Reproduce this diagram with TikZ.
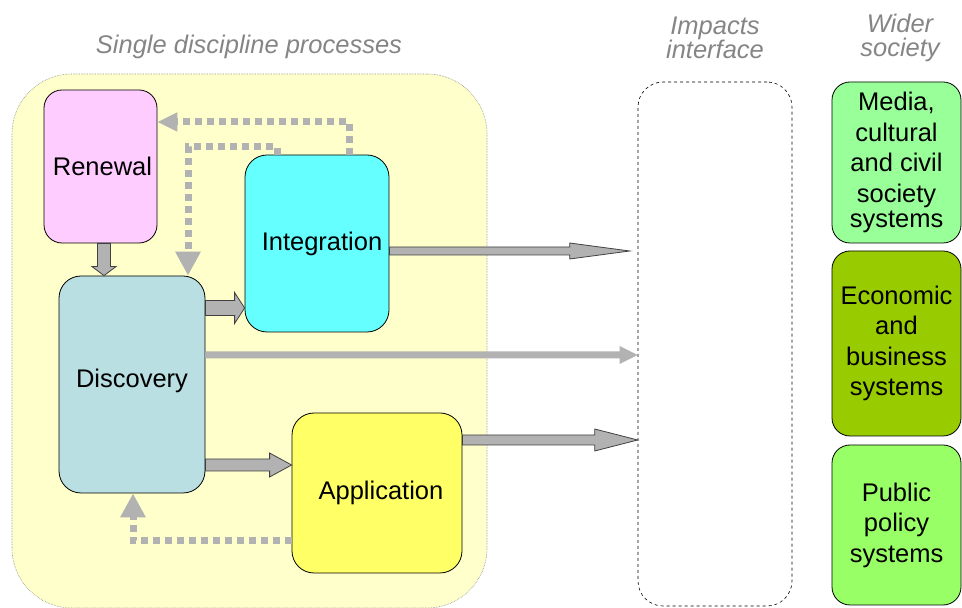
\documentclass[tikz,border=0pt]{standalone}
\usepackage{fontspec}
\setmainfont{Liberation Sans}
\usetikzlibrary{arrows.meta,calc}
\definecolor{regionfill}{HTML}{FFFFCC}
\definecolor{renfill}{HTML}{FFCCFF}
\definecolor{intfill}{HTML}{66FFFF}
\definecolor{discfill}{HTML}{B9DFE2}
\definecolor{appfill}{HTML}{FFFF66}
\definecolor{mediafill}{HTML}{99FF99}
\definecolor{econfill}{HTML}{99CC00}
\definecolor{pubfill}{HTML}{99FF66}
\definecolor{arrowgray}{HTML}{B2B2B2}
\definecolor{edgedark}{HTML}{404040}
\definecolor{titlegray}{HTML}{858585}
\tikzset{
  proc/.style={draw=black, line width=0.8pt, rounded corners=20pt, inner sep=0pt, align=center,
    font=\fontsize{25.5}{30.5}\selectfont},
  society/.style={proc, rounded corners=18pt},
  blk/.style={draw=edgedark, fill=arrowgray, line width=0.8pt, line join=miter},
  lightblk/.style={fill=arrowgray, draw=none},
  dotarrow/.style={draw=arrowgray, line width=7pt, dash pattern=on 7pt off 5pt,
    -{Triangle[length=24pt,width=24pt,fill=arrowgray]}},
  dotarrowsmall/.style={draw=arrowgray, line width=7pt, dash pattern=on 7pt off 5pt,
    -{Triangle[length=20pt,width=18pt,fill=arrowgray]}},
  heading/.style={text=titlegray, font=\fontsize{25.5}{24}\selectfont\itshape, align=center, inner sep=0pt}
}
\begin{document}
\begin{tikzpicture}[x=1pt,y=1pt]
\useasboundingbox (0,0) rectangle (962,608);
% region
\node[draw=titlegray, densely dotted, line width=0.6pt, fill=regionfill, rounded corners=60pt,
  minimum width=475pt, minimum height=534pt, inner sep=0pt] (region) at (249.5,267) {};
% headings
\node[heading] (h1) at (249,561) {Single discipline processes};
\node[heading] (h2) at (715,570) {Impacts\\interface};
\node[heading] (h3) at (900,570) {Wider\\society};
% process boxes
\node[proc, fill=renfill, minimum width=113pt, minimum height=153pt, rounded corners=18pt] (ren) at (100.5,441.5) {\hspace*{4pt}Renewal};
\node[proc, fill=intfill, minimum width=144pt, minimum height=177pt, rounded corners=22pt] (integ) at (317,364.5) {\hspace*{10pt}Integration};
\node[proc, fill=discfill, minimum width=146pt, minimum height=217pt, rounded corners=22pt] (disc) at (132,223.5) {\raisebox{12pt}{Discovery}};
\node[proc, fill=appfill, minimum width=170pt, minimum height=160pt, rounded corners=22pt] (app) at (377,115) {\hspace*{8pt}Application};
% impacts interface
\node[draw=black, dashed, line width=0.6pt, rounded corners=25pt, minimum width=154pt, minimum height=524pt, inner sep=0pt] (imp) at (715,264) {};
% society boxes
\node[society, fill=mediafill, minimum width=129pt, minimum height=161pt] (media) at (896.5,445.5) {Media,\\cultural\\and civil\\society\\[-5pt]systems};
\node[society, fill=econfill, minimum width=129pt, minimum height=185pt] (econ) at (896.5,264.5) {Economic\\and\\business\\systems};
\node[society, fill=pubfill, minimum width=129pt, minimum height=160pt] (pub) at (896.5,83) {Public\\policy\\systems};
% block arrows
\draw[blk] let \p1=(ren.south), \p2=(disc.north) in
  (97.5,\y1) -- (110.5,\y1) -- (110.5,\y2+9pt) -- (116,\y2+9pt) -- (104,\y2) -- (92,\y2+9pt) -- (97.5,\y2+9pt) -- cycle;
\draw[blk] let \p1=(disc.east), \p2=(integ.west) in
  (\x1,292.5pt) -- (\x2-10pt,292.5pt) -- (\x2-10pt,284.5pt) -- (\x2,300pt) -- (\x2-10pt,315.5pt) -- (\x2-10pt,307.5pt) -- (\x1,307.5pt) -- cycle;
\draw[blk] let \p1=(disc.east), \p2=(app.west) in
  (\x1,137pt) -- (\x2-22pt,137pt) -- (\x2-22pt,131pt) -- (\x2,143pt) -- (\x2-22pt,155pt) -- (\x2-22pt,149pt) -- (\x1,149pt) -- cycle;
\draw[blk] let \p1=(integ.east), \p2=(imp.west) in
  (\x1,353pt) -- (\x2-68pt,353pt) -- (\x2-68pt,349pt) -- (\x2-8pt,357pt) -- (\x2-68pt,365pt) -- (\x2-68pt,361pt) -- (\x1,361pt) -- cycle;
\fill[lightblk] let \p1=(disc.east), \p2=(imp.west) in
  (\x1,249.5pt) -- (\x2-18pt,249.5pt) -- (\x2-18pt,244pt) -- (\x2,253pt) -- (\x2-18pt,262pt) -- (\x2-18pt,256.5pt) -- (\x1,256.5pt) -- cycle;
\draw[blk] let \p1=(app.east), \p2=(imp.west) in
  (\x1,163pt) -- (\x2-43pt,163pt) -- (\x2-43pt,157pt) -- (\x2,168pt) -- (\x2-43pt,179pt) -- (\x2-43pt,173pt) -- (\x1,173pt) -- cycle;
% dotted feedback arrows
\draw[dotarrowsmall] let \p1=(integ.north), \p2=(ren.east) in
  (349,\y1) -- (349,486) -- (\x2,486);
\draw[dotarrow] let \p1=(integ.north), \p2=(disc.north) in
  (277,\y1) -- (277,461) -- (188,461) -- (188,\y2);
\draw[dotarrow] let \p1=(app.west), \p2=(disc.south) in
  (\x1,67pt) -- (133,67) -- (133,\y2);
\end{tikzpicture}
\end{document}
